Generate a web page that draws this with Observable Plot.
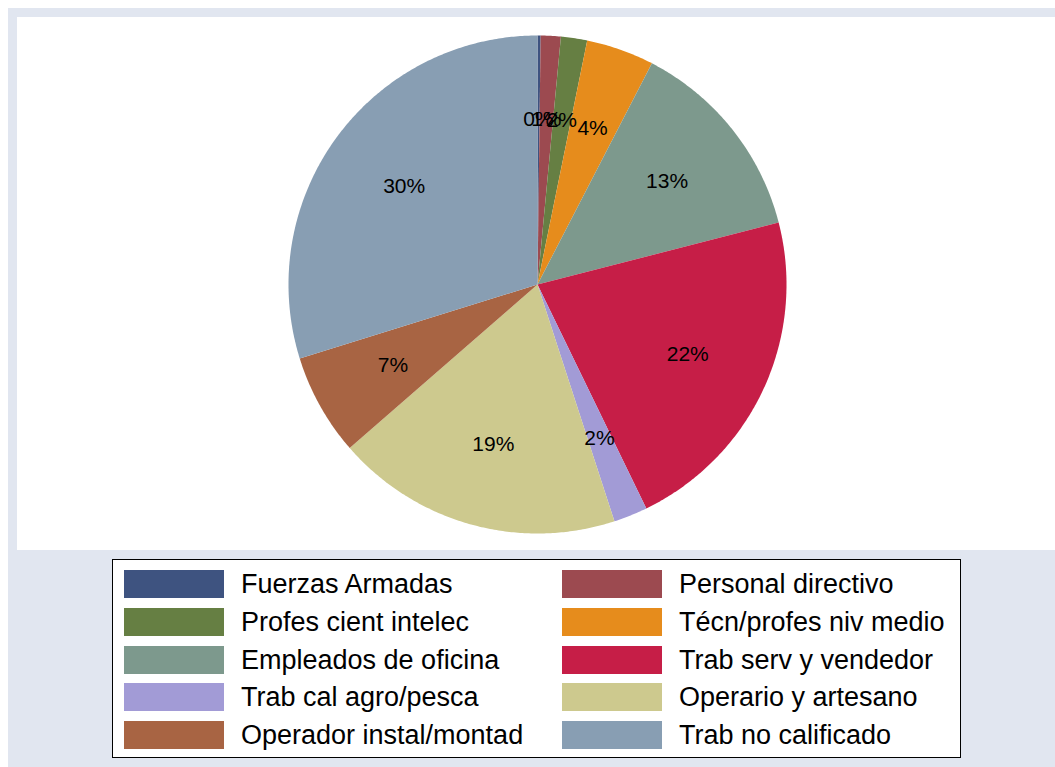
<!DOCTYPE html>
<html>
<head>
<meta charset="utf-8">
<script src="https://cdn.jsdelivr.net/npm/d3@7"></script>
<script src="https://cdn.jsdelivr.net/npm/@observablehq/plot@0.6"></script>
<style>
  html, body { margin: 0; padding: 0; background: #ffffff; }
  body { width: 1055px; height: 767px; position: relative; overflow: hidden; font-family: "Liberation Sans", Arial, sans-serif; }
  #outer { position: absolute; left: 8px; top: 8px; width: 1047px; height: 759px; background: #e1e6f0; }
  #plotarea { position: absolute; left: 17px; top: 17px; width: 1038px; height: 533px; background: #ffffff; }
  #legend { position: absolute; left: 112px; top: 559px; width: 847px; height: 197px; border: 1px solid #000; background: #fff; }
  .item { position: absolute; height: 28px; display: flex; align-items: center; }
  .sw { width: 100px; height: 28px; flex: none; }
  .lab { margin-left: 17px; font-size: 27px; color: #000; white-space: nowrap; line-height: 28px; }
</style>
</head>
<body>
<div id="outer"></div>
<div id="plotarea"></div>
<div id="legend"></div>
<script>
const categories = [
  "Fuerzas Armadas", "Personal directivo", "Profes cient intelec", "Técn/profes niv medio",
  "Empleados de oficina", "Trab serv y vendedor", "Trab cal agro/pesca", "Operario y artesano",
  "Operador instal/montad", "Trab no calificado"
];
const shares = [0.2, 1.3, 1.7, 4.4, 13.4, 21.8, 2.2, 18.6, 6.6, 29.8];
const colors = ["#3e5380", "#9c4a50", "#667f43", "#e68c1c", "#7d998d", "#c61e47", "#a29bd6", "#cdc98e", "#a86443", "#889eb3"];

const total = d3.sum(shares);
let cum = 0;
const slices = categories.map((c, i) => {
  const a0 = cum / total * 2 * Math.PI;
  cum += shares[i];
  const a1 = cum / total * 2 * Math.PI;
  return {cat: c, value: shares[i], a0, a1, pct: Math.round(shares[i] / total * 100)};
});

// polygon outlines of each slice (center + arc)
const outline = [];
for (const s of slices) {
  outline.push({cat: s.cat, x: 0, y: 0});
  const n = Math.max(2, Math.ceil((s.a1 - s.a0) / (Math.PI / 360)));
  for (let k = 0; k <= n; k++) {
    const a = s.a0 + (s.a1 - s.a0) * k / n;
    outline.push({cat: s.cat, x: Math.sin(a), y: Math.cos(a)});
  }
}
const labels = slices.map(s => {
  const m = (s.a0 + s.a1) / 2;
  return {cat: s.cat, x: 0.665 * Math.sin(m), y: 0.665 * Math.cos(m), text: s.pct + "%"};
});

const W = 1038, H = 533, cx = 520, cy = 267, R = 249;
const chart = Plot.plot({
  width: W,
  height: H,
  marginLeft: cx - R,
  marginRight: W - (cx + R),
  marginTop: cy - R,
  marginBottom: H - (cy + R),
  x: {domain: [-1, 1], axis: null},
  y: {domain: [-1, 1], axis: null},
  color: {domain: categories, range: colors},
  style: {background: "transparent", overflow: "visible"},
  marks: [
    Plot.line(outline, {x: "x", y: "y", z: "cat", fill: "cat", stroke: "none", curve: "linear-closed"}),
    Plot.text(labels, {x: "x", y: "y", text: "text", fill: "#000", fontSize: 21, fontFamily: "Liberation Sans, Arial, sans-serif"})
  ]
});
document.getElementById("plotarea").appendChild(chart);

// legend
const leg = document.getElementById("legend");
categories.forEach((c, i) => {
  const col = i % 2, row = Math.floor(i / 2);
  const it = document.createElement("div");
  it.className = "item";
  it.style.left = (11 + col * 438) + "px";
  it.style.top = (10 + row * 37.75) + "px";
  const sw = document.createElement("div");
  sw.className = "sw";
  sw.style.background = colors[i];
  const lb = document.createElement("div");
  lb.className = "lab";
  lb.textContent = c;
  it.appendChild(sw);
  it.appendChild(lb);
  leg.appendChild(it);
});
</script>
</body>
</html>
